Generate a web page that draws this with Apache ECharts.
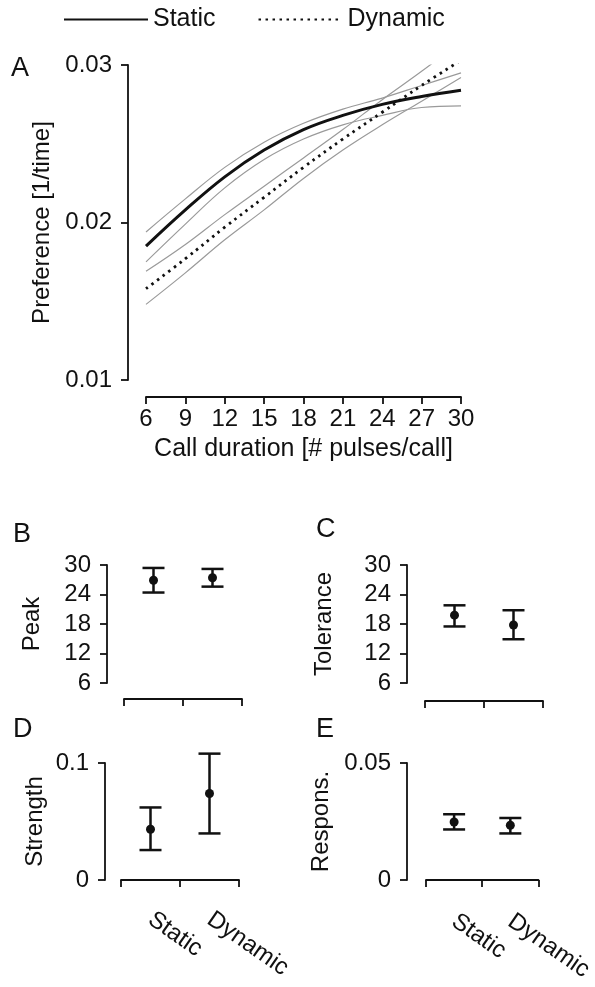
<!DOCTYPE html>
<html>
<head>
<meta charset="utf-8">
<script src="https://cdn.jsdelivr.net/npm/echarts@6/dist/echarts.min.js"></script>
<style>
  html, body { margin: 0; padding: 0; background: #fff; }
  #main { width: 595px; height: 987px; }
</style>
</head>
<body>
<div id="main"></div>
<script>
// panel A: preference functions
var durations = [6, 9, 12, 15, 18, 21, 24, 27, 30];
var staticMean  = [0.0185, 0.0208, 0.0229, 0.0246, 0.0259, 0.0268, 0.0275, 0.0280, 0.0284];
var staticUpper = [0.0194, 0.0215, 0.0235, 0.0251, 0.0263, 0.0272, 0.0279, 0.0287, 0.0295];
var staticLower = [0.0175, 0.0199, 0.0222, 0.0240, 0.0253, 0.0262, 0.0268, 0.0273, 0.0274];
var dynamicMean  = [0.0158, 0.0177, 0.0197, 0.0216, 0.0235, 0.0253, 0.0270, 0.0287, 0.0303];
var dynamicUpper = [0.0169, 0.0186, 0.0205, 0.0223, 0.0241, 0.0259, 0.0278, 0.0296, 0.0315];
var dynamicLower = [0.0148, 0.0168, 0.0189, 0.0208, 0.0228, 0.0246, 0.0262, 0.0277, 0.0292];

// panels B-E: estimates with error bars
var groups = ['Static', 'Dynamic'];
var peakMean = [26.9, 27.4], peakLow = [24.4, 25.6], peakHigh = [29.4, 29.2];
var tolMean = [19.8, 17.8], tolLow = [17.5, 14.9], tolHigh = [21.8, 20.8];
var strMean = [0.0434, 0.0739], strLow = [0.0256, 0.0398], strHigh = [0.062, 0.108];
var resMean = [0.0248, 0.0234], resLow = [0.0216, 0.0199], resHigh = [0.0281, 0.0265];

var FONT = 'Liberation Sans, Arial, Helvetica, sans-serif';
var INK = '#111';

function pairs(xs, ys) {
  return xs.map(function (x, i) { return [x, ys[i]]; });
}
function bars(mean, low, high) {
  return mean.map(function (m, i) { return [i, low[i], high[i], m]; });
}

function renderBar(params, api) {
  var lo = api.coord([api.value(0), api.value(1)]);
  var hi = api.coord([api.value(0), api.value(2)]);
  var md = api.coord([api.value(0), api.value(3)]);
  var x = lo[0], w = 11;
  var st = { stroke: INK, lineWidth: 2.5 };
  return {
    type: 'group',
    children: [
      { type: 'line', shape: { x1: x, y1: lo[1], x2: x, y2: hi[1] }, style: st },
      { type: 'line', shape: { x1: x - w, y1: lo[1], x2: x + w, y2: lo[1] }, style: st },
      { type: 'line', shape: { x1: x - w, y1: hi[1], x2: x + w, y2: hi[1] }, style: st },
      { type: 'circle', shape: { cx: x, cy: md[1], r: 4.5 }, style: { fill: INK } }
    ]
  };
}

var axisLine = { show: true, lineStyle: { color: INK, width: 1.8 } };
var axisTick = { show: true, length: 7, lineStyle: { color: INK, width: 1.8 } };

function catAxis(idx, offset, showLabels) {
  return {
    type: 'category', gridIndex: idx, data: groups, boundaryGap: true,
    offset: offset, axisLine: axisLine, axisTick: axisTick,
    splitLine: { show: false },
    axisLabel: { show: showLabels, rotate: -35, margin: 17, fontSize: 24, color: INK, fontFamily: FONT }
  };
}
function valAxis(idx, offset, min, max, interval, name, nameGap, fmt) {
  return {
    type: 'value', gridIndex: idx, min: min, max: max, interval: interval,
    offset: offset, axisLine: axisLine, axisTick: axisTick,
    splitLine: { show: false },
    axisLabel: { margin: 16, fontSize: 24, color: INK, fontFamily: FONT, formatter: fmt },
    name: name, nameLocation: 'middle', nameGap: nameGap,
    nameTextStyle: { fontSize: 24, color: INK, fontFamily: FONT }
  };
}
function plain(v) { return v === 0 ? '0' : String(+v.toFixed(3)); }

function letter(t, left, top) {
  return { text: t, left: left, top: top, textStyle: { fontSize: 27, fontWeight: 'normal', color: INK, fontFamily: FONT } };
}

var chart = echarts.init(document.getElementById('main'));
chart.setOption({
  animation: false,
  backgroundColor: '#fff',
  title: [
    letter('A', 6, 50),
    letter('B', 8, 516),
    letter('C', 311, 511),
    letter('D', 8, 711),
    letter('E', 311, 711)
  ],
  legend: {
    data: ['Static', 'Dynamic'],
    left: 58, top: 2,
    itemWidth: 84, itemHeight: 14, itemGap: 42,
    itemStyle: { opacity: 0 },
    textStyle: { fontSize: 25, color: INK, fontFamily: FONT }
  },
  grid: [
    { left: 146, top: 65, width: 315, height: 315 },
    { left: 124, top: 565, width: 118, height: 118 },
    { left: 425, top: 565, width: 118, height: 118 },
    { left: 121, top: 763, width: 118, height: 117 },
    { left: 426, top: 763, width: 117, height: 117 }
  ],
  xAxis: [
    {
      type: 'value', gridIndex: 0, min: 6, max: 30, interval: 3, offset: 17,
      axisLine: axisLine, axisTick: axisTick, splitLine: { show: false },
      axisLabel: { margin: 10, fontSize: 24, color: INK, fontFamily: FONT },
      name: 'Call duration [# pulses/call]', nameLocation: 'middle', nameGap: 40,
      nameTextStyle: { fontSize: 25, color: INK, fontFamily: FONT }
    },
    catAxis(1, 16, false),
    catAxis(2, 18, false),
    catAxis(3, 20, true),
    catAxis(4, 22, true)
  ],
  yAxis: [
    valAxis(0, 18, 0.01, 0.03, 0.01, 'Preference [1/time]', 70, function (v) { return v.toFixed(2); }),
    valAxis(1, 17, 6, 30, 6, 'Peak', 63),
    valAxis(2, 18, 6, 30, 6, 'Tolerance', 71),
    valAxis(3, 16, 0, 0.1, 0.1, 'Strength', 58, plain),
    valAxis(4, 19, 0, 0.05, 0.05, 'Respons.', 74, plain)
  ],
  series: [
    { name: 'Static CI upper', type: 'line', xAxisIndex: 0, yAxisIndex: 0, smooth: 0.4, symbol: 'none',
      data: pairs(durations, staticUpper), lineStyle: { color: '#9a9a9a', width: 1.2 } },
    { name: 'Static CI lower', type: 'line', xAxisIndex: 0, yAxisIndex: 0, smooth: 0.4, symbol: 'none',
      data: pairs(durations, staticLower), lineStyle: { color: '#9a9a9a', width: 1.2 } },
    { name: 'Dynamic CI upper', type: 'line', xAxisIndex: 0, yAxisIndex: 0, smooth: 0.4, symbol: 'none',
      data: pairs(durations, dynamicUpper), lineStyle: { color: '#9a9a9a', width: 1.2 } },
    { name: 'Dynamic CI lower', type: 'line', xAxisIndex: 0, yAxisIndex: 0, smooth: 0.4, symbol: 'none',
      data: pairs(durations, dynamicLower), lineStyle: { color: '#9a9a9a', width: 1.2 } },
    { name: 'Static', type: 'line', xAxisIndex: 0, yAxisIndex: 0, smooth: 0.4, symbol: 'none', z: 5,
      data: pairs(durations, staticMean), itemStyle: { color: INK },
      lineStyle: { color: INK, width: 3 } },
    { name: 'Dynamic', type: 'line', xAxisIndex: 0, yAxisIndex: 0, smooth: 0.4, symbol: 'none', z: 5,
      data: pairs(durations, dynamicMean), itemStyle: { color: INK },
      lineStyle: { color: INK, width: 2.8, type: [2.5, 4.5] } },
    { type: 'custom', xAxisIndex: 1, yAxisIndex: 1, renderItem: renderBar, clip: false,
      encode: { x: 0, y: [1, 2, 3] }, data: bars(peakMean, peakLow, peakHigh) },
    { type: 'custom', xAxisIndex: 2, yAxisIndex: 2, renderItem: renderBar, clip: false,
      encode: { x: 0, y: [1, 2, 3] }, data: bars(tolMean, tolLow, tolHigh) },
    { type: 'custom', xAxisIndex: 3, yAxisIndex: 3, renderItem: renderBar, clip: false,
      encode: { x: 0, y: [1, 2, 3] }, data: bars(strMean, strLow, strHigh) },
    { type: 'custom', xAxisIndex: 4, yAxisIndex: 4, renderItem: renderBar, clip: false,
      encode: { x: 0, y: [1, 2, 3] }, data: bars(resMean, resLow, resHigh) }
  ]
});
</script>
</body>
</html>
